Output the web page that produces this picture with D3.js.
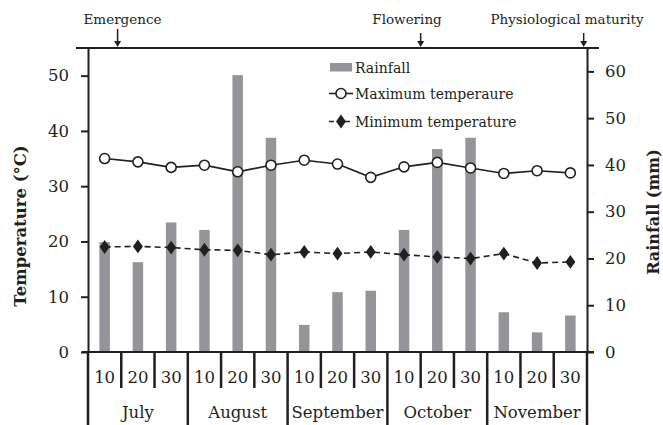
<!DOCTYPE html>
<html>
<head>
<meta charset="utf-8">
<script src="https://cdn.jsdelivr.net/npm/d3@7/dist/d3.min.js"></script>
<style>
  html, body { margin: 0; padding: 0; background: #fff; }
  svg { display: block; }
  text { font-family: "DejaVu Serif", "Liberation Serif", serif; fill: #231f20; }
</style>
</head>
<body>
<svg id="chart" width="663" height="425"></svg>
<script>
// ---- data ----
const months = ["July", "August", "September", "October", "November"];
const dekads = ["10", "20", "30"];
const rainfall = [23.5, 19.2, 27.7, 26.1, 59.2, 45.8, 5.8, 12.8, 13.1, 26.1, 43.4, 45.8, 8.5, 4.2, 7.8];
const maxTemp = [35.0, 34.4, 33.4, 33.8, 32.6, 33.8, 34.7, 34.0, 31.6, 33.5, 34.3, 33.3, 32.3, 32.8, 32.4];
const minTemp = [19.0, 19.1, 18.9, 18.5, 18.4, 17.6, 18.1, 17.8, 18.1, 17.6, 17.2, 16.9, 17.8, 16.1, 16.3];
const tempTicks = [0, 10, 20, 30, 40, 50];
const rainTicks = [0, 10, 20, 30, 40, 50, 60];
const stages = ["Emergence", "Flowering", "Physiological maturity"];
const stagePos = [0.89, 10.0, 14.9]; // position in units of dekads from start

// categories built from months x dekads
const categories = [];
months.forEach(m => dekads.forEach(d => categories.push(m + "-" + d)));

const ink = "#231f20";
const svg = d3.select("#chart");
const L = 88, R = 587, T = 48, B = 352;

const x = d3.scaleBand().domain(categories).range([L, R]).paddingInner(0).paddingOuter(0);
const yT = d3.scaleLinear().domain([0, 55]).range([B, T]);
const yR = d3.scaleLinear().domain([0, 65]).range([B, T]);
const bw = x.bandwidth();
const barW = 10.5;

// bars
svg.append("g").selectAll("rect").data(rainfall).join("rect")
  .attr("x", (d, i) => x(categories[i]) + bw / 2 - barW / 2)
  .attr("y", d => yR(d))
  .attr("width", barW)
  .attr("height", d => B - yR(d))
  .attr("fill", "#939598");

// lines
const cx = i => x(categories[i]) + bw / 2;
svg.append("path").datum(maxTemp)
  .attr("d", d3.line().x((d, i) => cx(i)).y(d => yT(d)))
  .attr("fill", "none").attr("stroke", ink).attr("stroke-width", 1.6);
svg.append("path").datum(minTemp)
  .attr("d", d3.line().x((d, i) => cx(i)).y(d => yT(d)))
  .attr("fill", "none").attr("stroke", ink).attr("stroke-width", 1.6)
  .attr("stroke-dasharray", "6,4");

svg.append("g").selectAll("circle").data(maxTemp).join("circle")
  .attr("cx", (d, i) => cx(i)).attr("cy", d => yT(d)).attr("r", 5)
  .attr("fill", "#fff").attr("stroke", ink).attr("stroke-width", 1.6);

const diamond = d3.symbol().type(d3.symbolDiamond).size(55);
svg.append("g").selectAll("path").data(minTemp).join("path")
  .attr("d", diamond)
  .attr("transform", (d, i) => `translate(${cx(i)},${yT(d)}) scale(1.25,1)`)
  .attr("fill", ink);

// axes
const axL = svg.append("g").attr("transform", `translate(${L},0)`)
  .call(d3.axisLeft(yT).tickValues(tempTicks).tickSize(7).tickSizeOuter(0).tickPadding(12));
const axR = svg.append("g").attr("transform", `translate(${R},0)`)
  .call(d3.axisRight(yR).tickValues(rainTicks).tickSize(7).tickSizeOuter(0).tickPadding(11));
[axL, axR].forEach(a => {
  a.select(".domain").attr("stroke", ink).attr("stroke-width", 2);
  a.selectAll(".tick line").attr("stroke", ink).attr("stroke-width", 2);
  a.selectAll(".tick text").style("font-family", '"DejaVu Serif", serif')
    .style("font-size", "16.5px").attr("fill", ink);
});

// baseline
svg.append("line").attr("x1", L - 6).attr("x2", R + 7).attr("y1", B).attr("y2", B)
  .attr("stroke", ink).attr("stroke-width", 2);
// top line
svg.append("line").attr("x1", 76).attr("x2", 599).attr("y1", T).attr("y2", T)
  .attr("stroke", ink).attr("stroke-width", 2);

// category separators
const bounds = d3.range(categories.length + 1);
svg.append("g").selectAll("line").data(bounds).join("line")
  .attr("x1", i => L + i * bw).attr("x2", i => L + i * bw)
  .attr("y1", B).attr("y2", i => (i % 3 === 0) ? 425 : 388)
  .attr("stroke", ink).attr("stroke-width", 2.5);

// dekad labels
svg.append("g").selectAll("text").data(categories).join("text")
  .attr("x", d => x(d) + bw / 2).attr("y", 383)
  .attr("text-anchor", "middle").style("font-size", "16.5px")
  .text(d => d.split("-")[1]);

// month labels
svg.append("g").selectAll("text").data(months).join("text")
  .attr("x", (d, i) => L + (i * 3 + 1.5) * bw).attr("y", 418)
  .attr("text-anchor", "middle").style("font-size", "16.5px")
  .text(d => d);

// axis titles
svg.append("text").attr("transform", "translate(26,226) rotate(-90)")
  .attr("text-anchor", "middle").style("font-size", "16.5px").style("font-weight", "bold")
  .text("Temperature (°C)");
svg.append("text").attr("transform", "translate(659,212) rotate(-90)")
  .attr("text-anchor", "middle").style("font-size", "16px").style("font-weight", "bold")
  .text("Rainfall (mm)");

// stage annotations
const stageTextX = [122.5, 407, 567];
const arrowTop = [29, 33, 33];
stages.forEach((s, i) => {
  const ax = L + stagePos[i] * bw;
  svg.append("text").attr("x", stageTextX[i]).attr("y", 24)
    .attr("text-anchor", "middle").style("font-size", "13.5px").text(s);
  svg.append("line").attr("x1", ax).attr("x2", ax).attr("y1", arrowTop[i]).attr("y2", T - 5)
    .attr("stroke", ink).attr("stroke-width", 1.5);
  svg.append("path").attr("d", `M${ax - 3.5},${T - 7} L${ax + 3.5},${T - 7} L${ax},${T - 1} Z`)
    .attr("fill", ink);
});

// legend
const lg = svg.append("g");
lg.append("rect").attr("x", 330).attr("y", 63).attr("width", 22).attr("height", 8.5).attr("fill", "#939598");
lg.append("text").attr("x", 355).attr("y", 73).style("font-size", "14px").text("Rainfall");
lg.append("line").attr("x1", 329).attr("x2", 353).attr("y1", 93.5).attr("y2", 93.5)
  .attr("stroke", ink).attr("stroke-width", 1.6);
lg.append("circle").attr("cx", 341).attr("cy", 93.5).attr("r", 5)
  .attr("fill", "#fff").attr("stroke", ink).attr("stroke-width", 1.6);
lg.append("text").attr("x", 355).attr("y", 98.5).style("font-size", "14px").text("Maximum temperaure");
lg.append("line").attr("x1", 329).attr("x2", 353).attr("y1", 121.5).attr("y2", 121.5)
  .attr("stroke", ink).attr("stroke-width", 1.6).attr("stroke-dasharray", "5,3");
lg.append("path").attr("d", diamond)
  .attr("transform", "translate(341,121.5) scale(1.25,1)").attr("fill", ink);
lg.append("text").attr("x", 355).attr("y", 126.5).style("font-size", "14px").text("Minimum temperature");
</script>
</body>
</html>
